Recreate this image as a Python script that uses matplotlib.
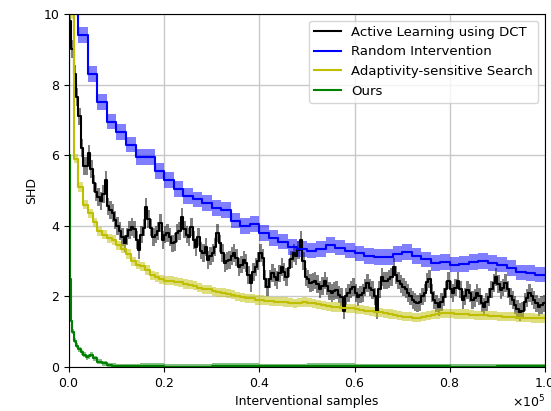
import numpy as np
import matplotlib
matplotlib.use("Agg")
import matplotlib.pyplot as plt

# sample positions in units of 1e5 interventional samples
x_dct = np.arange(201) * 0.005
x_rand = np.arange(51) * 0.02
x_ada = np.arange(101) * 0.01
x_ours = [0, 0.001, 0.002, 0.004, 0.006, 0.01, 0.015, 0.02, 0.025, 0.03, 0.035,
          0.04, 0.045, 0.05, 0.06, 0.07, 0.08, 0.09, 0.1, 0.15, 0.2, 0.3, 0.4,
          0.5, 0.6, 0.7, 0.8, 0.9, 1.0]

shd_dct = [9.8, 9.0, 8.3, 7.65, 7.1, 6.2, 5.7, 5.7, 6.05, 5.6,
           5.2, 4.95, 4.82, 4.7, 4.9, 5.3, 4.55, 4.45, 4.36, 4.16,
           4.0, 3.85, 3.68, 3.5, 3.7, 3.88, 3.97, 3.9, 3.6, 3.31,
           3.75, 3.95, 4.53, 4.2, 3.95, 3.68, 3.75, 3.85, 4.08, 3.6,
           3.75, 3.8, 3.68, 3.5, 3.55, 3.8, 3.85, 4.25, 3.9, 3.75,
           3.68, 3.97, 3.6, 3.4, 3.68, 3.3, 3.23, 3.4, 3.03, 3.15,
           3.23, 3.4, 3.8, 3.5, 3.23, 2.95, 3.0, 3.03, 3.15, 3.23,
           3.1, 2.83, 2.9, 3.03, 2.95, 2.6, 2.38, 2.7, 2.83, 3.0,
           3.23, 3.1, 2.5, 2.27, 2.5, 2.66, 2.55, 2.46, 2.65, 2.83,
           2.7, 2.55, 2.8, 3.05, 3.23, 3.15, 3.31, 3.6, 3.0, 2.55,
           2.5, 2.38, 2.4, 2.45, 2.35, 2.2, 2.3, 2.45, 2.3, 2.15,
           2.1, 2.15, 2.18, 2.05, 1.98, 1.6, 2.0, 2.1, 2.2, 2.27,
           2.1, 1.98, 2.05, 2.1, 2.25, 2.38, 2.25, 2.18, 2.0, 1.6,
           2.2, 2.55, 2.45, 2.45, 2.5, 2.55, 2.83, 2.6, 2.45, 2.35,
           2.27, 2.2, 2.1, 2.0, 1.9, 1.85, 1.8, 1.85, 2.0, 2.1,
           2.4, 2.5, 2.1, 1.9, 1.8, 1.7, 1.85, 1.98, 2.2, 2.45,
           2.2, 2.1, 2.25, 2.45, 2.2, 1.9, 2.0, 2.18, 2.1, 1.9,
           1.95, 2.1, 2.0, 1.8, 1.7, 1.85, 1.98, 2.2, 2.38, 2.55,
           2.35, 2.18, 2.25, 2.38, 2.2, 2.0, 1.9, 1.75, 1.65, 1.55,
           1.6, 1.85, 1.95, 2.1, 2.0, 1.9, 1.8, 1.7, 1.75, 1.8,
           1.8]
shd_rand = [10.8, 9.4, 8.3, 7.5, 6.95, 6.65, 6.3, 5.95, 5.95, 5.55,
            5.3, 5.05, 4.85, 4.75, 4.65, 4.5, 4.45, 4.15, 4.0, 4.05,
            3.8, 3.65, 3.55, 3.4, 3.35, 3.3, 3.35, 3.45, 3.38, 3.3,
            3.22, 3.15, 3.12, 3.12, 3.2, 3.26, 3.15, 3.05, 2.95, 2.97,
            2.9, 2.92, 2.97, 3.0, 2.95, 2.9, 2.8, 2.68, 2.66, 2.62,
            2.62]
shd_ada = [10.0, 5.9, 5.1, 4.6, 4.35, 4.1, 3.85, 3.75, 3.65, 3.6,
           3.45, 3.35, 3.2, 3.0, 2.9, 2.85, 2.75, 2.6, 2.55, 2.48,
           2.45, 2.45, 2.42, 2.4, 2.35, 2.33, 2.3, 2.25, 2.2, 2.2,
           2.15, 2.12, 2.1, 2.08, 2.05, 2.0, 1.98, 1.95, 1.95, 1.9,
           1.9, 1.88, 1.86, 1.85, 1.85, 1.84, 1.82, 1.8, 1.82, 1.84,
           1.82, 1.8, 1.78, 1.75, 1.72, 1.7, 1.7, 1.68, 1.66, 1.66,
           1.64, 1.62, 1.6, 1.58, 1.56, 1.55, 1.52, 1.5, 1.48, 1.45,
           1.43, 1.42, 1.4, 1.4, 1.42, 1.45, 1.48, 1.5, 1.52, 1.52,
           1.52, 1.5, 1.5, 1.5, 1.48, 1.47, 1.47, 1.46, 1.45, 1.45,
           1.44, 1.43, 1.42, 1.42, 1.4, 1.4, 1.4, 1.39, 1.38, 1.38,
           1.38]
shd_ours = [10.5, 6.0, 2.5, 1.3, 1.0, 0.75, 0.6, 0.5, 0.42, 0.35, 0.28,
            0.3, 0.35, 0.25, 0.15, 0.1, 0.05, 0.03, 0.02, 0.03, 0.01, 0.03, 0.02,
            0.03, 0.02, 0.02, 0.01, 0.02, 0.02]

err_dct = 0.25
err_rand = 0.22
err_ada = 0.13
err_ours = 0.07

series = [
    (x_dct, shd_dct, err_dct, 'k', 'Active Learning using DCT'),
    (x_rand, shd_rand, err_rand, 'b', 'Random Intervention'),
    (x_ada, shd_ada, err_ada, 'y', 'Adaptivity-sensitive Search'),
    (x_ours, shd_ours, err_ours, 'g', 'Ours'),
]

fig, ax = plt.subplots(figsize=(5.51, 4.11), dpi=100)
fig.subplots_adjust(left=0.125, right=0.989, bottom=0.107, top=0.966)

for xs, ys, err, c, label in series:
    xs = np.asarray(xs) * 1e5
    ys = np.asarray(ys)
    ax.fill_between(xs, ys - err, ys + err, step='post', color=c, alpha=0.5, lw=0)
    ax.plot(xs, ys, drawstyle='steps-post', color=c, lw=1.5, label=label)

ax.set_xlim(0, 1e5)
ax.set_ylim(0, 10)
ax.ticklabel_format(style='sci', axis='x', scilimits=(0, 0), useMathText=True)
ax.grid(True, color='#c8c8c8', lw=1)
ax.set_axisbelow(True)
ax.tick_params(labelsize=9)
ax.xaxis.get_offset_text().set_fontsize(9)
ax.set_xlabel('Interventional samples', fontsize=9)
ax.set_ylabel('SHD', fontsize=9)
ax.legend(loc='upper right', fontsize=9.5)

plt.savefig('out.png', dpi=100)
